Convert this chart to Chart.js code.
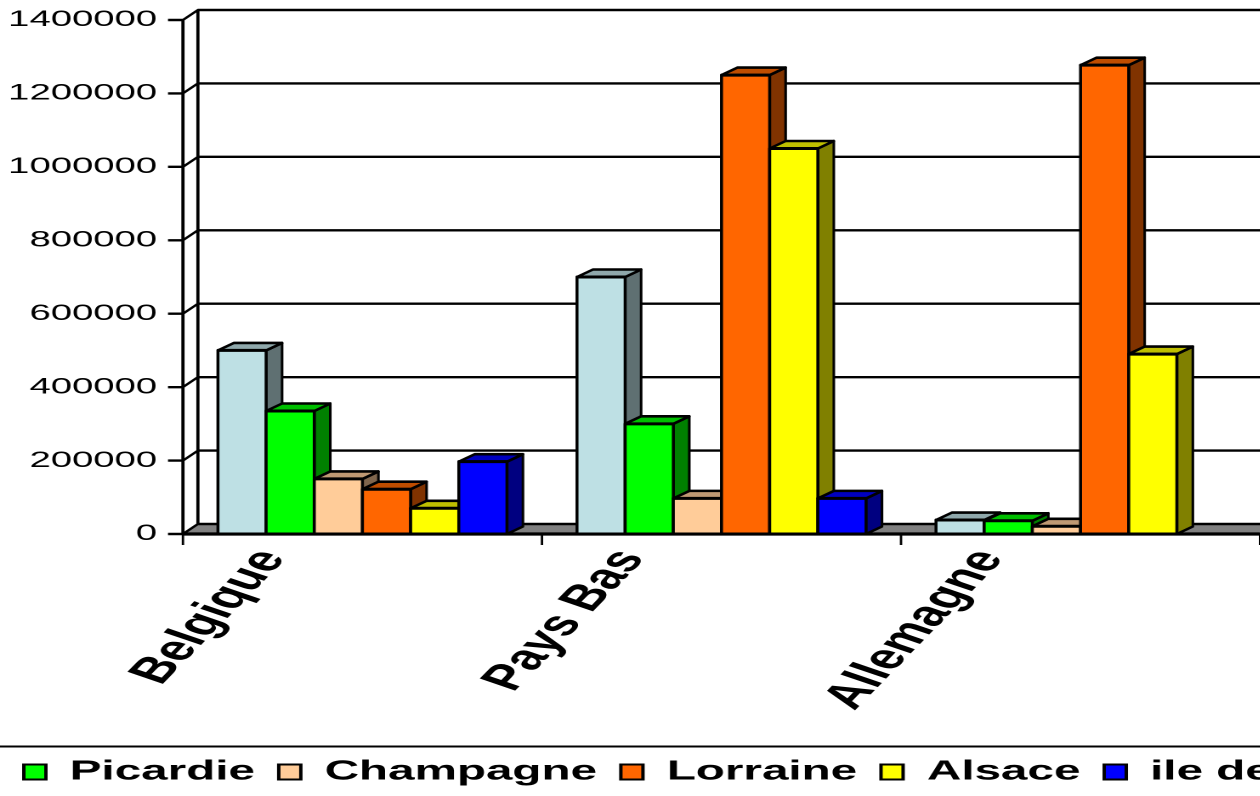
<!DOCTYPE html>
<html>
<head>
<meta charset="utf-8">
<script src="https://cdn.jsdelivr.net/npm/chart.js@4.4.1/dist/chart.umd.min.js"></script>
<style>
  html, body { margin: 0; padding: 0; background: #fff; overflow: hidden; width: 1260px; height: 796px; }
  /* the reference is stretched sideways, so the chart is drawn narrow and widened */
  #wrap { position: absolute; left: 0; top: 0; width: 880px; height: 796px; transform: scaleX(1.7); transform-origin: 0 0; }
</style>
</head>
<body>
<div id="wrap"><canvas id="chart"></canvas></div>
<script>
const categories = ['Belgique', 'Pays Bas', 'Allemagne'];
const seriesNames = ['Nord Pas de Calais', 'Picardie', 'Champagne', 'Lorraine', 'Alsace', 'ile de France'];
const nord = [500000, 700000, 38000];
const picardie = [335000, 300000, 36000];
const champagne = [150000, 97000, 21000];
const lorraine = [122000, 1250000, 1277000];
const alsace = [70000, 1050000, 490000];
const ileDeFrance = [197000, 97000, null];
const yTicks = [0, 200000, 400000, 600000, 800000, 1000000, 1200000, 1400000];

const seriesValues = [nord, picardie, champagne, lorraine, alsace, ileDeFrance];
const frontColors = ['#BEE0E4', '#00FF00', '#FFCC99', '#FF6600', '#FFFF00', '#0000FF'];

const K = 1.7;                       // horizontal stretch from the css transform
const WALL_DX = 8.8, WALL_DY = -10;  // depth of walls / floor
const BAR_DX = 9.4, BAR_DY = -7.5;   // depth of bars
const FONT = '"Liberation Sans", Arial, sans-serif';

function shade(hex, f) {
  const n = parseInt(hex.slice(1), 16);
  const r = Math.round(((n >> 16) & 255) * f);
  const g = Math.round(((n >> 8) & 255) * f);
  const b = Math.round((n & 255) * f);
  return `rgb(${r},${g},${b})`;
}

// stroke with a round pen in the stretched picture
function strokePath(ctx, pts, width, close) {
  ctx.save();
  ctx.scale(1 / K, 1);
  ctx.beginPath();
  pts.forEach(([px, py], i) => i ? ctx.lineTo(px * K, py) : ctx.moveTo(px * K, py));
  if (close) ctx.closePath();
  ctx.lineWidth = width;
  ctx.strokeStyle = '#000';
  ctx.lineJoin = 'round';
  ctx.stroke();
  ctx.restore();
}

function fillPoly(ctx, pts, color) {
  ctx.beginPath();
  pts.forEach(([px, py], i) => i ? ctx.lineTo(px, py) : ctx.moveTo(px, py));
  ctx.closePath();
  ctx.fillStyle = color;
  ctx.fill();
}

const box3d = {
  id: 'box3d',
  beforeDatasetsDraw(chart) {
    const { ctx, chartArea: a, scales: { x, y } } = chart;
    ctx.save();

    // floor
    const floor = [[a.left, a.bottom], [a.right, a.bottom], [a.right + WALL_DX, a.bottom + WALL_DY], [a.left + WALL_DX, a.bottom + WALL_DY]];
    fillPoly(ctx, floor, '#808080');
    strokePath(ctx, floor, 1.5, true);

    // back wall grid lines, tick marks and labels
    ctx.font = '22.5px ' + FONT;
    ctx.fillStyle = '#000';
    ctx.textAlign = 'right';
    ctx.textBaseline = 'middle';
    yTicks.forEach(v => {
      const py = y.getPixelForValue(v);
      strokePath(ctx, [[a.left - 8.8, py], [a.left, py], [a.left + WALL_DX, py + WALL_DY], [a.right + WALL_DX, py + WALL_DY]], 2.4);
      ctx.fillText(String(v), a.left - 15.2, py);
    });

    // wall edges
    strokePath(ctx, [[a.left, a.top], [a.left, a.bottom]], 3.2);
    strokePath(ctx, [[a.left + WALL_DX, a.top + WALL_DY], [a.left + WALL_DX, a.bottom + WALL_DY]], 3.2);
    strokePath(ctx, [[a.left, a.bottom], [a.right, a.bottom]], 3.2);

    // category tick marks
    for (let i = 0; i <= categories.length; i++) {
      const px = x.getPixelForValue(i - 0.5);
      strokePath(ctx, [[px, a.bottom], [px, a.bottom + 11]], 2.4);
    }

    // bars, left to right so each hides the side of the one before
    chart.data.datasets.forEach((ds, i) => {
      const meta = chart.getDatasetMeta(i);
      meta.data.forEach((bar, j) => {
        if (ds.data[j] == null) return;
        const { x: cx, y: top, base, width } = bar.getProps(['x', 'y', 'base', 'width'], true);
        const l = cx - width / 2, r = cx + width / 2;
        const side = [[r, top], [r + BAR_DX, top + BAR_DY], [r + BAR_DX, base + BAR_DY], [r, base]];
        const lid = [[l, top], [r, top], [r + BAR_DX, top + BAR_DY], [l + BAR_DX, top + BAR_DY]];
        const front = [[l, top], [r, top], [r, base], [l, base]];
        fillPoly(ctx, side, shade(frontColors[i], 0.5));
        strokePath(ctx, side, 2.6, true);
        fillPoly(ctx, lid, shade(frontColors[i], 0.75));
        strokePath(ctx, lid, 2.6, true);
        fillPoly(ctx, front, frontColors[i]);
        strokePath(ctx, front, 3, true);
      });
    });

    // category labels
    ctx.font = 'bold 35px ' + FONT;
    ctx.textAlign = 'right';
    ctx.textBaseline = 'middle';
    ctx.fillStyle = '#000';
    categories.forEach((c, i) => {
      ctx.save();
      ctx.translate(x.getPixelForValue(i) - 53, 553);
      ctx.rotate(-Math.PI / 3);
      ctx.fillText(c, 0, 0);
      ctx.restore();
    });

    ctx.restore();
    return false;
  },
  afterDraw(chart) {
    const ctx = chart.ctx;
    ctx.save();
    ctx.fillStyle = '#000';
    ctx.fillRect(0, 745.5, chart.width, 2);
    ctx.restore();
  }
};

new Chart(document.getElementById('chart'), {
  type: 'bar',
  data: {
    labels: categories,
    datasets: seriesNames.map((name, i) => ({
      label: name,
      data: seriesValues[i],
      yAxisID: 'y',
      backgroundColor: frontColors[i],
      borderColor: '#000',
      borderWidth: 2
    }))
  },
  options: {
    responsive: true,
    maintainAspectRatio: false,
    animation: false,
    devicePixelRatio: 2,
    layout: { padding: { top: 20, left: 0, right: 0, bottom: 0 } },
    datasets: { bar: { categoryPercentage: 0.805, barPercentage: 1 } },
    scales: {
      x: {
        grid: { display: false }, border: { display: false }, ticks: { display: false },
        afterFit: s => { s.height = 210; }
      },
      y: {
        min: 0, max: 1400000,
        ticks: { display: false, stepSize: 200000 },
        grid: { display: false }, border: { display: false },
        afterFit: s => { s.width = 107.6; }
      },
      yr: {
        type: 'linear', position: 'right',
        grid: { display: false }, border: { display: false }, ticks: { display: false },
        afterFit: s => { s.width = 138.8; }
      }
    },
    plugins: {
      legend: {
        position: 'bottom',
        align: 'start',
        labels: {
          filter: item => item.datasetIndex > 0,
          boxWidth: 13,
          boxHeight: 15,
          padding: 14,
          color: '#000',
          font: { family: FONT, size: 28, weight: 'bold' }
        }
      },
      tooltip: { enabled: false }
    }
  },
  plugins: [box3d]
});
</script>
</body>
</html>
